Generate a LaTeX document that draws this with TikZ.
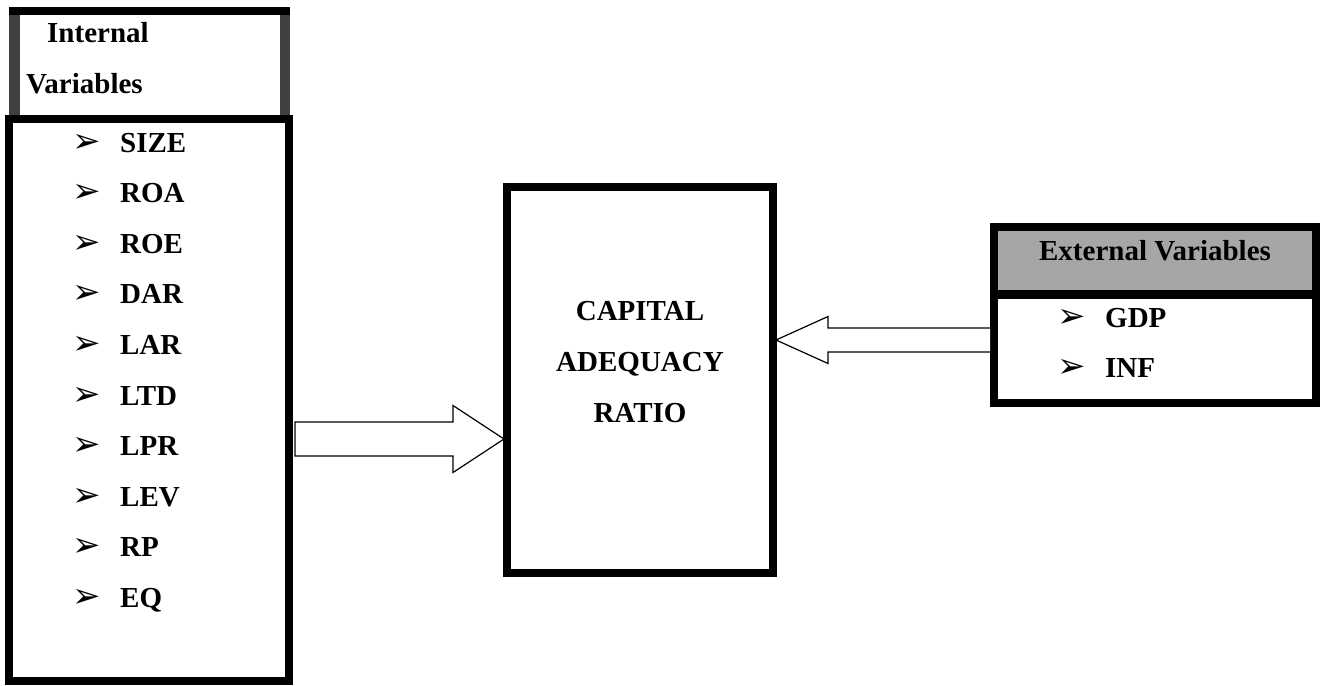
\documentclass[tikz,border=0pt]{standalone}
\usepackage{fontspec}
\setmainfont{Liberation Serif}
\newfontfamily\symfont{DejaVu Sans}
\usetikzlibrary{calc}
\definecolor{hdrside}{HTML}{404040}
\definecolor{hdrfill}{HTML}{A6A6A6}
\tikzset{
  heavybox/.style={draw=black, line width=8pt, fill=white, inner sep=0pt},
  itemtext/.style={font=\fontsize{29}{29}\selectfont\bfseries, anchor=base west, inner sep=0pt},
  midtext/.style={font=\fontsize{29}{29}\selectfont\bfseries, anchor=base, inner sep=0pt},
  bulletmark/.style={font=\symfont\fontsize{34}{34}\selectfont, anchor=base west, inner sep=0pt},
  blockarrow/.style={draw=black, line width=1.2pt, fill=white, line join=miter},
}
\begin{document}
\begin{tikzpicture}[x=1pt, y=-1pt]
\useasboundingbox (0,0) rectangle (1321,685);

% header of the internal list: dark sides, black top, white face
\node[fill=hdrside, inner sep=0pt, outer sep=0pt,
      minimum width=281pt, minimum height=118pt] (hdr) at (149.5,66) {};
\fill[white] ($(hdr.north west)+(11,8)$) rectangle ($(hdr.south east)+(-10,0)$);
\fill[black] (hdr.north west) rectangle ++(281,8);
\node[itemtext] (hdrA) at (47,43) {Internal};
\node[itemtext] (hdrB) at (26,93) {Variables};

% internal variables
\node[heavybox, minimum width=280pt, minimum height=562pt] (list) at (149,400) {};
\foreach \t [count=\i from 0] in {SIZE,ROA,ROE,DAR,LAR,LTD,LPR,LEV,RP,EQ}{
  \node[bulletmark] (b\i) at (72,{152+50.6*\i}) {➢};
  \node[itemtext] (i\i) at (120,{152+50.6*\i}) {\t};
}

% central box
\node[heavybox, minimum width=266pt, minimum height=386pt] (cap) at (640,380) {};
\node[midtext] (capA) at (640,320) {CAPITAL};
\node[midtext] (capB) at (640,371) {ADEQUACY};
\node[midtext] (capC) at (640,422) {RATIO};

% external variables
\node[heavybox, minimum width=322pt, minimum height=176pt] (ext) at (1155,315) {};
\fill[hdrfill] (998,231) rectangle (1312,290);
\fill[black] (994,290) rectangle (1316,299);
\node[midtext] (extH) at (1155,260) {External Variables};
\node[bulletmark] (g0) at (1057,327) {➢};
\node[itemtext] (e0) at (1105,327) {GDP};
\node[bulletmark] (g1) at (1057,377) {➢};
\node[itemtext] (e1) at (1105,377) {INF};

% block arrows into the central box
\coordinate (a1s) at (list.east |- 0,439);
\coordinate (a1t) at (cap.west |- 0,439);
\draw[blockarrow] ($(a1s)+(2,-17)$) -- ($(a1t)+(-50,-17)$) -- ($(a1t)+(-50,-33.5)$)
  -- ($(a1t)+(1,0)$) -- ($(a1t)+(-50,33.5)$) -- ($(a1t)+(-50,17)$) -- ($(a1s)+(2,17)$) -- cycle;

\coordinate (a2s) at (ext.west |- 0,340);
\coordinate (a2t) at (cap.east |- 0,340);
\draw[blockarrow] ($(a2s)+(0,-12)$) -- ($(a2t)+(51,-12)$) -- ($(a2t)+(51,-23.5)$)
  -- ($(a2t)+(-1,0)$) -- ($(a2t)+(51,23.5)$) -- ($(a2t)+(51,12)$) -- ($(a2s)+(0,12)$);
\end{tikzpicture}
\end{document}
